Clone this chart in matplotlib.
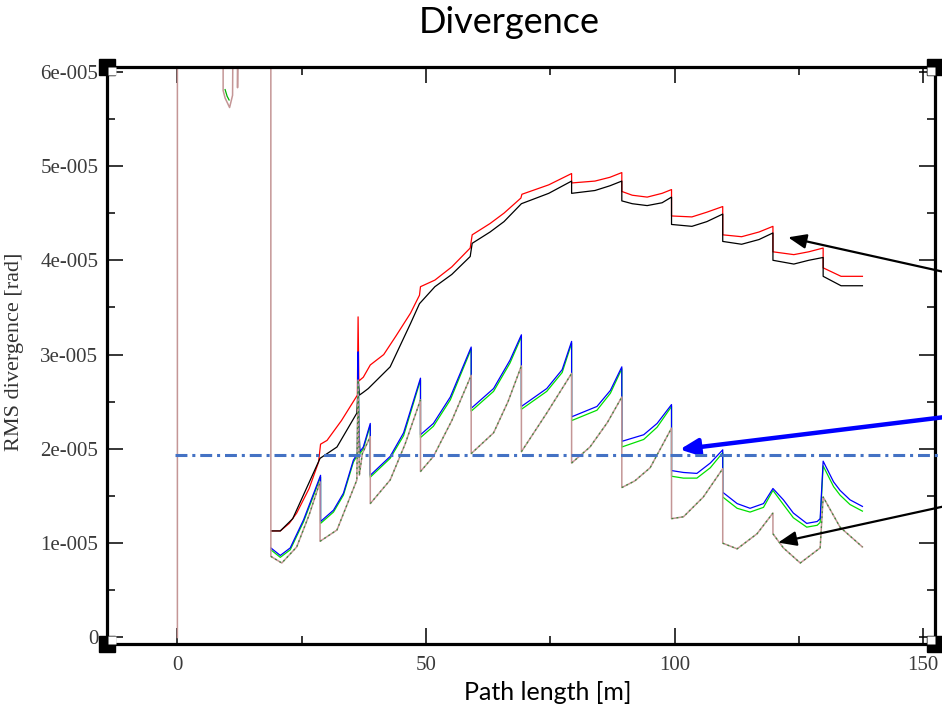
import matplotlib
matplotlib.use('Agg')
import matplotlib.pyplot as plt
import matplotlib.transforms as mtransforms
import numpy as np

# ---- data (y values in units of 1e-5 rad) ----
red_x = [18.8, 20.7, 22.5, 24.0, 26.5, 28.4, 28.8, 30.1, 33.0, 36.2, 36.35, 36.5, 37.4, 38.8,
         41.5, 44.0, 46.9, 48.7, 48.9, 51.8, 55.2, 58.9, 59.3, 62.9, 65.7, 69.1, 69.3,
         74.7, 79.3, 79.3, 84.0, 87.0, 89.4, 89.4, 91.5, 94.5, 97.5, 99.4, 99.4, 103.5,
         106.5, 109.7, 109.7, 113.5, 117.0, 119.8, 119.8, 124.0, 127.0, 129.9, 129.9,
         133.5, 137.8]
red_y = [1.13, 1.13, 1.21, 1.32, 1.58, 1.86, 2.05, 2.09, 2.30, 2.57, 3.40, 2.72, 2.76, 2.89,
         3.00, 3.20, 3.44, 3.63, 3.72, 3.79, 3.93, 4.13, 4.27, 4.39, 4.50, 4.66, 4.70,
         4.80, 4.92, 4.82, 4.84, 4.88, 4.93, 4.73, 4.69, 4.67, 4.71, 4.75, 4.47, 4.46,
         4.51, 4.57, 4.27, 4.25, 4.30, 4.36, 4.09, 4.06, 4.09, 4.13, 3.92,
         3.83, 3.83]

black_x = [18.8, 20.7, 23.2, 28.7, 32.1, 36.1, 36.4, 36.6, 37.4, 38.4, 42.8, 46.9,
           48.7, 51.8, 55.2, 58.9, 59.3, 62.9, 65.7, 69.2, 74.7, 79.3, 79.3, 84.0,
           87.0, 89.4, 89.4, 91.5, 94.5, 97.5, 99.4, 99.4, 103.5, 106.5, 109.7, 109.7,
           113.5, 117.0, 119.8, 119.8, 124.0, 127.0, 129.9, 129.9, 133.5, 137.8]
black_y = [1.13, 1.13, 1.26, 1.90, 2.02, 2.38, 2.73, 2.57, 2.60, 2.64, 2.87, 3.33,
           3.54, 3.72, 3.85, 4.04, 4.18, 4.30, 4.41, 4.60, 4.71, 4.84, 4.71, 4.74,
           4.79, 4.84, 4.63, 4.60, 4.58, 4.61, 4.67, 4.38, 4.36, 4.41, 4.49, 4.20,
           4.17, 4.22, 4.29, 4.00, 3.96, 4.00, 4.03, 3.83, 3.73, 3.73]

mid_x = [18.8, 20.7, 22.7, 25.4, 28.8, 28.8, 31.4, 33.4, 35.4, 36.2, 36.35, 36.5, 36.7,
         37.4, 38.8, 38.8, 42.8, 45.5, 48.9, 48.9, 51.5, 54.9, 59.1, 59.1, 63.6, 66.9,
         69.2, 69.2, 74.3, 77.4, 79.3, 79.3, 84.4, 87.1, 89.4, 89.4, 93.8, 96.5, 99.4,
         99.4, 101.8, 104.5, 107.2, 109.7, 109.7, 112.6, 115.2, 117.9, 119.8, 121.9,
         123.9, 126.6, 128.7, 129.3, 129.9, 132.0, 133.3, 135.3, 137.8]
blue_y = [0.95, 0.87, 0.95, 1.25, 1.72, 1.23, 1.35, 1.53, 1.88, 1.95, 3.03, 2.30, 1.97,
          2.02, 2.27, 1.72, 1.92, 2.17, 2.75, 2.15, 2.27, 2.55, 3.08, 2.43, 2.64, 2.94,
          3.21, 2.45, 2.64, 2.84, 3.14, 2.34, 2.45, 2.62, 2.87, 2.08, 2.15, 2.27, 2.47,
          1.77, 1.75, 1.74, 1.85, 1.99, 1.54, 1.42, 1.37, 1.42, 1.58, 1.46,
          1.32, 1.21, 1.23, 1.26, 1.87, 1.65, 1.56, 1.46, 1.39]
green_y = [0.93, 0.85, 0.93, 1.23, 1.70, 1.21, 1.33, 1.51, 1.86, 1.93, 2.95, 2.28, 1.95,
           2.00, 2.25, 1.70, 1.90, 2.14, 2.73, 2.12, 2.24, 2.52, 3.06, 2.40, 2.61, 2.91,
           3.19, 2.42, 2.61, 2.81, 3.12, 2.30, 2.41, 2.59, 2.85, 2.02, 2.10, 2.23, 2.45,
           1.71, 1.69, 1.69, 1.80, 1.96, 1.49, 1.37, 1.33, 1.38, 1.56, 1.41,
           1.27, 1.17, 1.19, 1.22, 1.82, 1.60, 1.51, 1.41, 1.34]
green_early_x = [9.6, 10.0, 10.4]
green_early_y = [5.81, 5.74, 5.70]

low_x = [0, 0, 9.2, 9.2, 9.6, 10.5, 11.1, 11.2, 12.1, 12.1, 12.2, 18.8,
         18.8, 21.0, 24.0, 26.5, 28.7, 28.7, 32.1, 36.1, 36.35, 36.6, 37.2, 38.8,
         38.8, 42.8, 45.8, 48.9, 48.9, 51.5, 55.2, 59.1, 59.1, 63.6, 66.5, 69.2,
         69.2, 74.3, 79.3, 79.3, 83.0, 86.5, 89.4, 89.4, 92.0, 95.1, 99.4, 99.4, 101.8,
         105.8, 109.7, 109.7, 112.6, 116.6, 119.8, 119.8, 121.9, 125.3, 129.3, 129.9,
         133.3, 137.8]
low_y = [0, 6.5, 6.5, 5.80, 5.72, 5.62, 5.75, 6.5, 6.5, 5.83, 6.5, 6.5,
         0.86, 0.79, 0.96, 1.30, 1.65, 1.02, 1.14, 1.67, 2.73, 1.72, 1.95, 2.13,
         1.42, 1.67, 2.05, 2.52, 1.76, 1.92, 2.30, 2.78, 1.95, 2.17, 2.50, 2.88,
         1.97, 2.38, 2.80, 1.85, 2.02, 2.28, 2.55, 1.59, 1.66, 1.80, 2.22, 1.26, 1.28,
         1.49, 1.79, 1.00, 0.94, 1.10, 1.32, 1.10, 0.95, 0.79, 0.95, 1.49,
         1.17, 0.96]

limit_value = 1.93
x_ticks = [0, 50, 100, 150]
x_tick_labels = ['0', '50', '100', '150']
y_ticks = [0, 1, 2, 3, 4, 5, 6]
y_tick_labels = ['0', '1e-005', '2e-005', '3e-005', '4e-005', '5e-005', '6e-005']

scale = 1e-5

fig = plt.figure(figsize=(9.42, 7.10), dpi=100)
ax = fig.add_axes([107.3 / 942, 1 - 644 / 710, (935 - 107.3) / 942, (644 - 66.5) / 710])

ax.plot(red_x, np.array(red_y) * scale, color='#ff0000', lw=0.9)
ax.plot(black_x, np.array(black_y) * scale, color='black', lw=0.9)
ax.plot(mid_x, np.array(green_y) * scale, color='#00e000', lw=0.9)
ax.plot(mid_x, np.array(blue_y) * scale, color='#0000ff', lw=0.9)
ax.plot(green_early_x, np.array(green_early_y) * scale, color='#00b000', lw=0.9)
ax.plot(low_x, np.array(low_y) * scale, color='#c49696', lw=1.1)

# dark green dashes over the lower curve, broken at the vertical drops
lx = np.array(low_x[12:], dtype=float)
ly = np.array(low_y[12:], dtype=float)
breaks = np.where(np.diff(lx) == 0)[0] + 1
gx = np.insert(lx, breaks, np.nan)
gy = np.insert(ly, breaks, np.nan)
ax.plot(gx, gy * scale, color='#3a8a3a', lw=0.9, ls=(0, (1.5, 2.5)))

# dash-dot reference level (runs past the frame)
ax.plot([-0.4, 170], [limit_value * scale] * 2, color='#4472c4', lw=2.2,
        ls=(0, (3.9, 1.6, 1.0, 1.6)), clip_on=False, zorder=5)

ax.set_xlim(-14.1, 152.4)
ax.set_ylim(-0.069e-5, 6.055e-5)
ax.set_xticks(x_ticks)
ax.set_xticklabels(x_tick_labels)
ax.set_xticks([25, 75, 125], minor=True)
ax.set_yticks(np.array(y_ticks) * scale)
ax.set_yticklabels(y_tick_labels)
ax.set_yticks(np.arange(0.5, 6, 1) * scale, minor=True)

for s in ax.spines.values():
    s.set_linewidth(2.3)
ax.tick_params(which='both', direction='in', top=True, right=True, width=1.1,
               colors='black', labelcolor='#3a3a3a')
ax.tick_params(which='major', length=11.5)
ax.tick_params(which='minor', length=5.8)
ax.tick_params(axis='y', pad=6.5)
ax.tick_params(axis='x', pad=8.5)
for lab in ax.get_xticklabels() + ax.get_yticklabels():
    lab.set_family('Liberation Serif')
    lab.set_fontsize(15)

# Grace-style corner handles
for cx, cy, dx, dy in [(0, 1, 1, -1), (0, 0, 1, 1), (1, 1, -1, -1), (1, 0, -1, 1)]:
    ax.plot(cx, cy, 's', ms=12.2, color='black', mec='black', transform=ax.transAxes,
            clip_on=False, zorder=10)
    tr = mtransforms.offset_copy(ax.transAxes, fig=fig, x=dx * 4.5, y=dy * 4.5, units='dots')
    ax.plot(cx, cy, 's', ms=6.2, mfc='white', mec='none', transform=tr,
            clip_on=False, zorder=11)

# arrows coming in from the right edge
ax.annotate('', xy=(122.3, 4.25e-5), xycoords='data',
            xytext=(1.02, 0.6117), textcoords='figure fraction',
            arrowprops=dict(arrowstyle='-|>,head_length=0.55,head_width=0.22',
                            mutation_scale=20, color='black', lw=1.6),
            annotation_clip=False)
ax.annotate('', xy=(100.5, 1.99e-5), xycoords='data',
            xytext=(1.02, 0.4154), textcoords='figure fraction',
            arrowprops=dict(arrowstyle='-|>,head_length=0.55,head_width=0.25',
                            mutation_scale=20, color='#0000ff', lw=3.2),
            annotation_clip=False)
ax.annotate('', xy=(120.3, 1.00e-5), xycoords='data',
            xytext=(1.02, 0.2920), textcoords='figure fraction',
            arrowprops=dict(arrowstyle='-|>,head_length=0.55,head_width=0.22',
                            mutation_scale=20, color='black', lw=1.6),
            annotation_clip=False)

fig.text(509.5 / 942, 1 - 33 / 710, 'Divergence', fontsize=26, family='Lato',
         ha='center', va='baseline')
fig.text(547.5 / 942, 1 - 700 / 710, 'Path length [m]', fontsize=18, family='Lato',
         ha='center', va='baseline')
fig.text(15 / 942, 1 - 352 / 710, 'RMS divergence [rad]', rotation=90, fontsize=16,
         family='Liberation Serif', color='#333333', ha='center', va='center')

fig.savefig('out.png', dpi=100)
